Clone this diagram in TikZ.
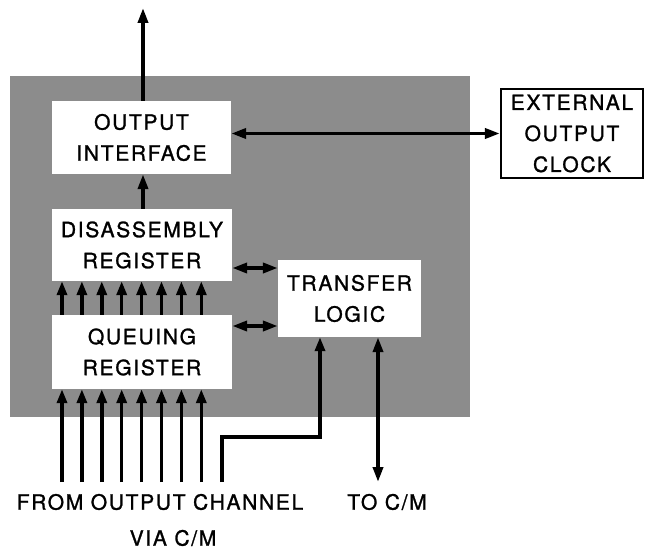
\documentclass[tikz,border=0pt]{standalone}
\usepackage{fontspec}
\newfontfamily\lab[LetterSpace=8,FakeBold=1.2]{TeX Gyre Heros}
\usetikzlibrary{arrows.meta}
\begin{document}
\begin{tikzpicture}[x=1pt,y=-1pt,
  txt/.style={font=\lab\fontsize{21}{31}\selectfont, align=center, inner sep=0pt},
  cbox/.style={txt, fill=white, draw=black, line width=2.2pt},
  arr/.style={line width=3.6pt, -{Triangle[length=15pt,width=10pt]}},
  darr/.style={line width=3.6pt, {Triangle[length=15pt,width=10pt]}-{Triangle[length=15pt,width=10pt]}},
  thin arr/.style={line width=3.4pt, -{Triangle[length=14pt,width=10pt]}}
]
\useasboundingbox (0,0) rectangle (652,553);
\fill[black!45] (10,76) rectangle (470,417);
% boxes
\node[txt, fill=white, minimum width=179pt, minimum height=73pt] (oi) at (141.5,137.5) {OUTPUT\\INTERFACE};
\node[txt, fill=white, minimum width=180pt, minimum height=72pt] (dr) at (142,245) {DISASSEMBLY\\REGISTER};
\node[txt, fill=white, minimum width=180pt, minimum height=74pt] (qr) at (142,352) {QUEUING\\REGISTER};
\node[txt, fill=white, minimum width=143pt, minimum height=77pt] (tl) at (349.5,298.5) {TRANSFER\\LOGIC};
\node[cbox, minimum width=142pt, minimum height=89pt] (eoc) at (572,133.5) {EXTERNAL\\OUTPUT\\CLOCK};
% labels
\node[txt] (from) at (160,502) {FROM OUTPUT CHANNEL};
\node[txt] (via) at (173,538) {VIA C/M};
\node[txt] (to) at (387,502) {TO C/M};
% coordinates
\coordinate (top) at (143,8);
\coordinate (y268) at (0,268);
\coordinate (y326) at (0,326);
\coordinate (bot) at (0,482);
\coordinate (r1) at (222,482);
\coordinate (r2) at (222,437);
\coordinate (r3) at (320,437);
\coordinate (c1) at (378,482);
% connectors
\draw[arr] (oi.north -| top) -- (top);
\draw[arr] (dr.north -| top) -- (oi.south -| top);
\draw[darr] (oi.east |- eoc.west) -- (eoc.west);
\draw[darr] (dr.east |- y268) -- (tl.west |- y268);
\draw[darr] (qr.east |- y326) -- (tl.west |- y326);
\foreach \i in {0,...,7}{
  \coordinate (b\i) at ({62+19.9*\i},0);
  \draw[thin arr] (b\i |- bot) -- (b\i |- qr.south);
  \draw[thin arr] (b\i |- qr.north) -- (b\i |- dr.south);
}
\draw[line width=3.4pt, -{Triangle[length=14pt,width=10pt]}] (r1) -- (r2) -- (r3) -- (r3 |- tl.south);
\draw[darr] (c1) -- (c1 |- tl.south);
\end{tikzpicture}
\end{document}
